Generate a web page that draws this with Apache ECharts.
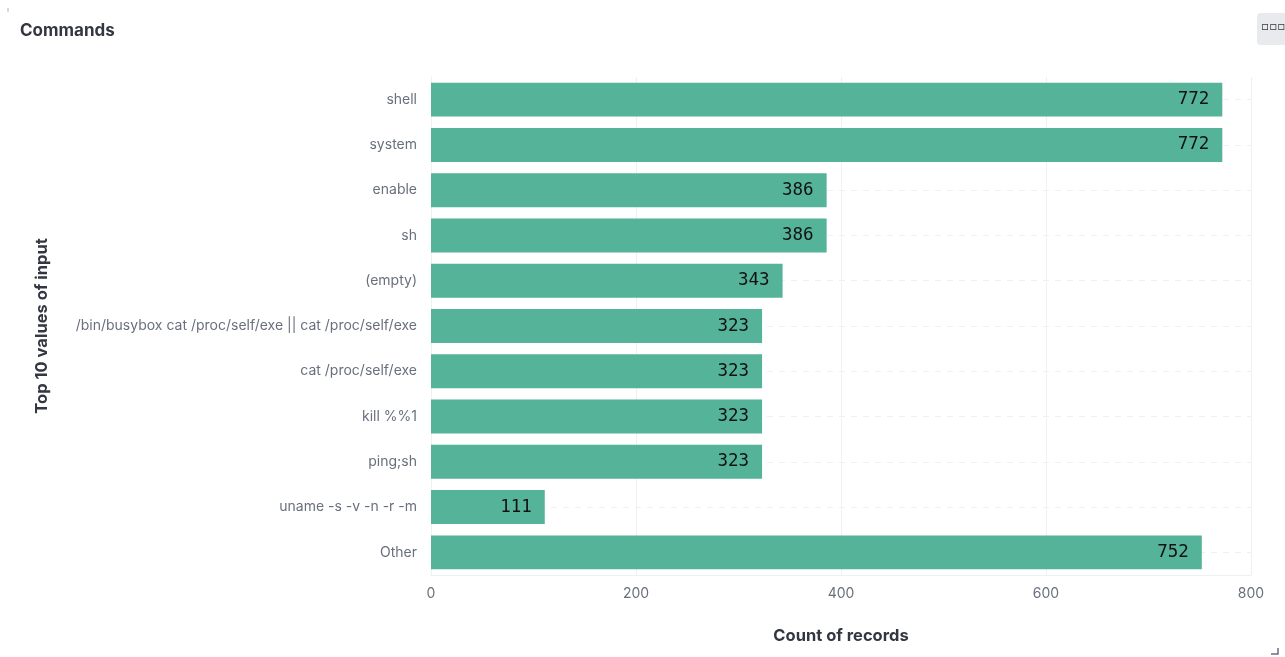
<!DOCTYPE html>
<html>
<head>
<meta charset="utf-8">
<script src="https://cdn.jsdelivr.net/npm/echarts@6/dist/echarts.min.js"></script>
<style>
  html, body { margin: 0; padding: 0; background: #fff; }
  #chart { width: 1285px; height: 657px; }
</style>
</head>
<body>
<div id="chart"></div>
<script>
// Top commands seen in the honeypot input log
const categories = [
  'shell', 'system', 'enable', 'sh', '(empty)',
  '/bin/busybox cat /proc/self/exe || cat /proc/self/exe',
  'cat /proc/self/exe', 'kill %%1', 'ping;sh', 'uname -s -v -n -r -m', 'Other'
];
const counts = [772, 772, 386, 386, 343, 323, 323, 323, 323, 111, 752];
const xTicks = [0, 200, 400, 600, 800];

const chart = echarts.init(document.getElementById('chart'), null, { renderer: 'canvas' });

chart.setOption({
  animation: false,
  backgroundColor: '#ffffff',
  title: {
    text: 'Commands',
    left: 15,
    top: 17,
    textStyle: { fontFamily: 'Inter', fontSize: 17, fontWeight: 'bold', color: '#343741' }
  },
  grid: { left: 431, right: 34, top: 77, bottom: 82, containLabel: false },
  xAxis: {
    type: 'value',
    min: xTicks[0],
    max: xTicks[xTicks.length - 1],
    interval: xTicks[1] - xTicks[0],
    name: 'Count of records',
    nameLocation: 'middle',
    nameGap: 53,
    nameTextStyle: { fontFamily: 'Inter', fontSize: 16.5, fontWeight: 'bold', color: '#343741' },
    axisLine: { show: true, lineStyle: { color: '#eef0f3', width: 1 } },
    axisTick: { show: false },
    axisLabel: { margin: 12, fontFamily: 'Inter', fontSize: 14, color: '#69707d' },
    splitLine: { show: true, lineStyle: { color: '#eef0f3', width: 1 } }
  },
  yAxis: {
    type: 'category',
    data: categories,
    inverse: true,
    name: 'Top 10 values of input',
    nameLocation: 'middle',
    nameGap: 380,
    nameRotate: 90,
    nameTextStyle: { fontFamily: 'Inter', fontSize: 16.5, fontWeight: 'bold', color: '#343741' },
    axisLine: { show: true, lineStyle: { color: '#eef0f3', width: 1 } },
    axisTick: { show: false, alignWithLabel: true },
    axisLabel: { margin: 14, fontFamily: 'Inter', fontSize: 14, color: '#69707d' },
    splitLine: {
      show: true,
      alignWithLabel: true,
      lineStyle: { color: '#eef0f3', width: 1, type: [6, 6] }
    }
  },
  series: [{
    type: 'bar',
    data: counts,
    barCategoryGap: '25%',
    itemStyle: { color: '#54b399' },
    label: {
      show: true,
      position: 'insideRight',
      distance: 13,
      fontFamily: 'DejaVu Sans Mono',
      fontSize: 17.5,
      color: '#111111'
    }
  }],
  graphic: [
    {
      type: 'rect',
      shape: { x: 1257, y: 13, width: 40, height: 32, r: 4 },
      style: { fill: '#e9eaed' }
    },
    {
      type: 'text',
      left: 1261,
      top: 21,
      style: { text: '▫▫▫', font: 'bold 12px DejaVu Sans', fill: '#343741' }
    },
    {
      type: 'polyline',
      shape: { points: [[8, 8], [8, 12]] },
      style: { stroke: '#b0b4bb', lineWidth: 1 }
    },
    {
      type: 'polyline',
      shape: { points: [[1278, 648], [1278, 654], [1271, 654]] },
      style: { stroke: '#69707d', lineWidth: 1.5, fill: null }
    }
  ]
});
</script>
</body>
</html>
